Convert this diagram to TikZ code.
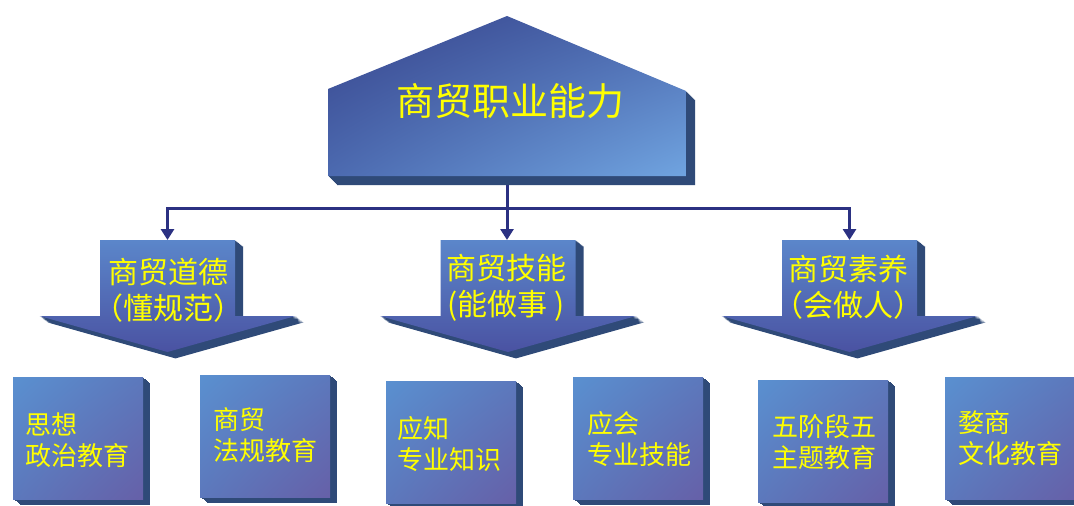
\documentclass[tikz,border=0pt]{standalone}
\usepackage{fontspec}
\newfontfamily\cjk{Noto Sans CJK SC}
\usetikzlibrary{arrows.meta,shadings}
\definecolor{ext}{HTML}{2F4A78}
\definecolor{navy}{HTML}{2B3182}
\definecolor{txt}{HTML}{FFFF00}
\definecolor{topA}{HTML}{37448C}
\definecolor{topB}{HTML}{70A4E0}
\definecolor{topC}{HTML}{4C6AB0}
\definecolor{arrA}{HTML}{5B86CA}
\definecolor{arrB}{HTML}{4A52A2}
\definecolor{boxA}{HTML}{5A90D0}
\definecolor{boxB}{HTML}{6660A8}
\definecolor{boxM}{HTML}{5C78BC}
\tikzset{
  conn/.style={draw=navy, line width=3pt, -{Triangle[width=13pt,length=11pt]}},
  title/.style={text=txt, font=\cjk\fontsize{38}{42}\selectfont, inner sep=0pt},
  alabel/.style={text=txt, font=\cjk\fontsize{30}{36}\selectfont, align=center, inner sep=0pt},
  blabel/.style={text=txt, font=\cjk\fontsize{26}{31}\selectfont, align=left, inner sep=0pt, anchor=west},
  darrow/.pic={
    \foreach \i in {1,...,8}{
      \fill[ext,shift={(\i,0.8*\i)}] (-67.5,0) -- (67.5,0) -- (67.5,76) -- (128,76) -- (0,112) -- (-128,76) -- (-67.5,76) -- cycle;}
    \shade[top color=arrA, bottom color=arrB] (-67.5,0) -- (67.5,0) -- (67.5,76) -- (128,76) -- (0,112) -- (-128,76) -- (-67.5,76) -- cycle;
  },
  cube/.pic={
    \foreach \i in {1,...,7}{
      \fill[ext,shift={(\i,0.8*\i)}] (0,0) rectangle (130,122);}
    \shade[upper left=boxA, lower right=boxB, upper right=boxM, lower left=boxM] (0,0) rectangle (130,122);
  }
}
\begin{document}
\begin{tikzpicture}[x=1pt,y=-1pt]
\useasboundingbox[fill=white] (0,0) rectangle (1074,506);
% connector coordinates
\coordinate (topb) at (507,176);
\coordinate (bar) at (507,208);
\coordinate (a1) at (167.5,240);
\coordinate (a2) at (507,240);
\coordinate (a3) at (849.5,240);
\draw[conn] (topb) -- (bar) -| (a1);
\draw[conn] (bar) -- (a2);
\draw[conn] (bar) -| (a3);
% top pentagon
\foreach \i in {1,...,9}{
  \fill[ext,shift={(\i,\i)}] (328,89) -- (507,16) -- (686,91) -- (686,176) -- (328,176) -- cycle;}
\shade[upper left=topA, lower right=topB, upper right=topC, lower left=topC] (328,89) -- (507,16) -- (686,91) -- (686,176) -- (328,176) -- cycle;
\node[title] (t) at (510,101) {商贸职业能力};
% arrows
\pic at (a1) {darrow};
\pic at (508,240) {darrow};
\pic at (a3) {darrow};
\node[alabel] (l1) at (168,290) {商贸道德\\（懂规范）};
\node[alabel] (l2) at (506,288) {商贸技能\\(能做事 )};
\node[alabel] (l3) at (848,287) {商贸素养\\（会做人）};
% cubes
\pic at (13,377) {cube};
\pic at (200,375) {cube};
\pic at (386,381) {cube};
\pic at (573,377) {cube};
\pic at (758,380) {cube};
\pic at (945,377) {cube};
\node[blabel] (b1) at (25,440) {思想\\政治教育};
\node[blabel] (b2) at (213,435) {商贸\\法规教育};
\node[blabel] (b3) at (397,444) {应知\\专业知识};
\node[blabel] (b4) at (587,439) {应会\\专业技能};
\node[blabel] (b5) at (772,442) {五阶段五\\主题教育};
\node[blabel] (b6) at (958,438) {婺商\\文化教育};
\end{tikzpicture}
\end{document}
